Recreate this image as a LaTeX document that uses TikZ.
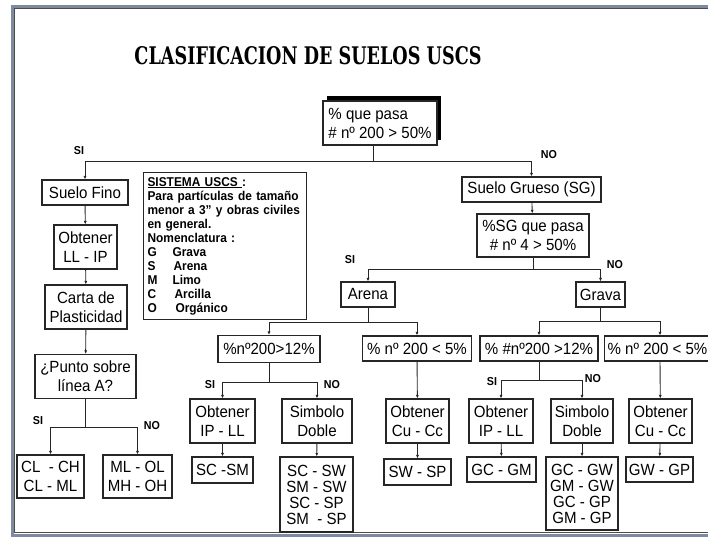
\documentclass[tikz,border=0pt]{standalone}
\usepackage{fontspec}
\setmainfont[FakeStretch=0.93]{Liberation Sans}
\newfontfamily\titulo{DejaVu Serif}
\usetikzlibrary{arrows.meta, shadows}
\definecolor{marco}{RGB}{125,138,160}

\begin{document}
\begin{tikzpicture}[x=1pt, y=-1pt,
    caja/.style={draw=black!85, line width=1.1pt, fill=white, align=center,
        inner xsep=2pt, inner ysep=1pt, minimum height=25pt,
        font=\fontsize{16.2}{19}\selectfont},
    doble/.style={caja, minimum height=44pt},
    lista/.style={caja, minimum height=75pt, font=\fontsize{16.2}{16}\selectfont},
    etiq/.style={font=\bfseries\fontsize{11.5}{13}\selectfont},
    linea/.style={draw=black!85, line width=0.9pt},
    flecha/.style={linea, -{Latex[length=3.5pt, width=3pt]}}]
    \useasboundingbox (0,0) rectangle (708,538);
    \clip (0,0) rectangle (708,538);

    % Frame of the sheet
    \draw[marco, line width=3pt] (720,6) -| (12,535) -- (720,535);
    \draw[black!70, line width=0.8pt] (720,8.5) -| (14.5,532.5) -- (720,532.5);

    % Title
    \node (tit) at (308,56) {\resizebox{347pt}{18pt}{\titulo\bfseries CLASIFICACION DE SUELOS USCS}};

    % First decision
    \node[caja, align=left, minimum width=114pt, minimum height=44pt,
        drop shadow={shadow xshift=4pt, shadow yshift=5pt, fill=black, opacity=1}]
        (top) at (380,123) {\% que pasa\\\# nº 200 > 50\%};

    % Fine soils branch
    \node[caja, minimum width=86pt] (fino) at (85,192.5) {Suelo Fino};
    \node[doble, minimum width=63pt] (llip) at (85.5,247) {Obtener\\LL - IP};
    \node[doble, minimum width=82pt] (carta) at (86,307) {Carta de\\Plasticidad};
    \node[doble, minimum width=101pt] (punto) at (85.5,376.5) {¿Punto sobre\\línea A?};
    \node[doble, minimum width=67pt, minimum height=43pt] (clch) at (50.5,476.5) {CL\ \ - CH\\CL - ML};
    \node[doble, minimum width=69pt, minimum height=43pt] (mlol) at (137.5,476.5) {ML - OL\\MH - OH};

    % Legend box
    \node[draw=black!85, line width=1.1pt, anchor=north west, text width=155pt, align=left,
        inner sep=4pt, minimum height=147pt, font=\bfseries\fontsize{12.8}{14}\selectfont]
        (uscs) at (143,172) {\underline{SISTEMA USCS }:\\
        Para partículas de tamaño\\
        menor a 3" y obras civiles\\
        en general.\\
        Nomenclatura :\\
        \makebox[25pt][l]{G}Grava\\
        \makebox[26pt][l]{S}Arena\\
        \makebox[25pt][l]{M}Limo\\
        \makebox[27pt][l]{C}Arcilla\\
        \makebox[28pt][l]{O}Orgánico};

    % Coarse soils branch
    \node[caja, minimum width=139pt] (grueso) at (531.5,189.5) {Suelo Grueso (SG)};
    \node[doble, minimum width=112pt, minimum height=43pt] (sg4) at (533,235.5) {\%SG que pasa\\\# nº 4 > 50\%};
    \node[caja, minimum width=54pt] (arena) at (368,294.5) {Arena};
    \node[caja, minimum width=49pt] (grava) at (600.5,294.5) {Grava};

    % Sand
    \node[caja, minimum width=102pt, minimum height=27pt] (a12) at (269,349) {\%nº200>12\%};
    \node[caja, minimum width=109pt] (a5) at (417,348.5) {\% nº 200 < 5\%};
    \node[doble, minimum width=65pt] (aipll) at (222.5,421) {Obtener\\IP - LL};
    \node[doble, minimum width=70pt] (adoble) at (317,421) {Simbolo\\Doble};
    \node[doble, minimum width=63pt] (acucc) at (417.5,421) {Obtener\\Cu - Cc};
    \node[caja, minimum width=61pt, minimum height=26pt] (scsm) at (222.5,470) {SC -SM};
    \node[lista, minimum width=73pt] (sclist) at (316.5,494.5) {SC - SW\\SM - SW\\SC - SP\\SM\ \ - SP};
    \node[caja, minimum width=67pt, minimum height=26pt] (swsp) at (417.5,472) {SW - SP};

    % Gravel
    \node[caja, minimum width=118pt] (g12) at (539,348.5) {\% \#nº200 >12\%};
    \node[caja, minimum width=106pt] (g5) at (657.5,348.5) {\% nº 200 < 5\%};
    \node[doble, minimum width=64pt] (gipll) at (501,421) {Obtener\\IP - LL};
    \node[doble, minimum width=62pt] (gdoble) at (582,421) {Simbolo\\Doble};
    \node[doble, minimum width=63pt] (gcucc) at (660.5,421) {Obtener\\Cu - Cc};
    \node[caja, minimum width=69pt] (gcgm) at (501.5,469.5) {GC - GM};
    \node[lista, minimum width=72pt, minimum height=73pt] (gclist) at (582,493.5) {GC - GW\\GM - GW\\GC - GP\\GM - GP};
    \node[caja, minimum width=67pt] (gwgp) at (659.5,469.5) {GW - GP};

    % Split points
    \coordinate (r0) at (373,161);
    \coordinate (r1) at (85.5,427);
    \coordinate (r2) at (533,269);
    \coordinate (r3) at (368,322);
    \coordinate (r4) at (600.5,321);
    \coordinate (r5) at (269,382);
    \coordinate (r6) at (539,380);

    % Connectors
    \draw[linea] ([xshift=-7pt]top.south) -- (r0);
    \draw[flecha] (r0) -| (fino.north);
    \draw[flecha] (r0) -| (grueso.north);
    \draw[flecha] (fino) -- (llip);
    \draw[flecha] (llip) -- (carta);
    \draw[flecha] (carta) -- (punto);
    \draw[linea] (punto.south) -- (r1);
    \draw[flecha] (r1) -| (clch.north);
    \draw[flecha] (r1) -| (mlol.north);
    \draw[flecha] (grueso) -- (sg4);
    \draw[linea] (sg4.south) -- (r2);
    \draw[flecha] (r2) -| (arena.north);
    \draw[flecha] (r2) -| (grava.north);
    \draw[linea] (arena.south) -- (r3);
    \draw[flecha] (r3) -| (a12.north);
    \draw[flecha] (r3) -| (a5.north);
    \draw[linea] (grava.south) -- (r4);
    \draw[flecha] (r4) -| ([xshift=2.5pt]g5.north);
    \draw[flecha] (r4) -| (g12.north);
    \draw[linea] (a12.south) -- (r5);
    \draw[flecha] (r5) -| (aipll.north);
    \draw[flecha] (r5) -| (adoble.north);
    \draw[flecha] (a5) -- (acucc);
    \draw[flecha] (acucc) -- (swsp);
    \draw[flecha] (aipll) -- (scsm);
    \draw[flecha] (adoble) -- (sclist);
    \draw[linea] (g12.south) -- (r6);
    \draw[flecha] (r6) -| (gipll.north);
    \draw[flecha] (r6) -| (gdoble.north);
    \draw[flecha] ([xshift=2.5pt]g5.south) -- (gcucc);
    \draw[flecha] (gcucc) -- (gwgp);
    \draw[flecha] (gipll) -- (gcgm);
    \draw[flecha] (gdoble) -- (gclist);

    % SI / NO labels
    \node[etiq] (si0) at (79,151) {SI};
    \node[etiq] (no0) at (549,155) {NO};
    \node[etiq] (si1) at (38,421) {SI};
    \node[etiq] (no1) at (152,426) {NO};
    \node[etiq] (si2) at (350,260) {SI};
    \node[etiq] (no2) at (615,265) {NO};
    \node[etiq] (si3) at (210,385) {SI};
    \node[etiq] (no3) at (332,385) {NO};
    \node[etiq] (si4) at (492,382) {SI};
    \node[etiq] (no4) at (593,379) {NO};
\end{tikzpicture}
\end{document}
